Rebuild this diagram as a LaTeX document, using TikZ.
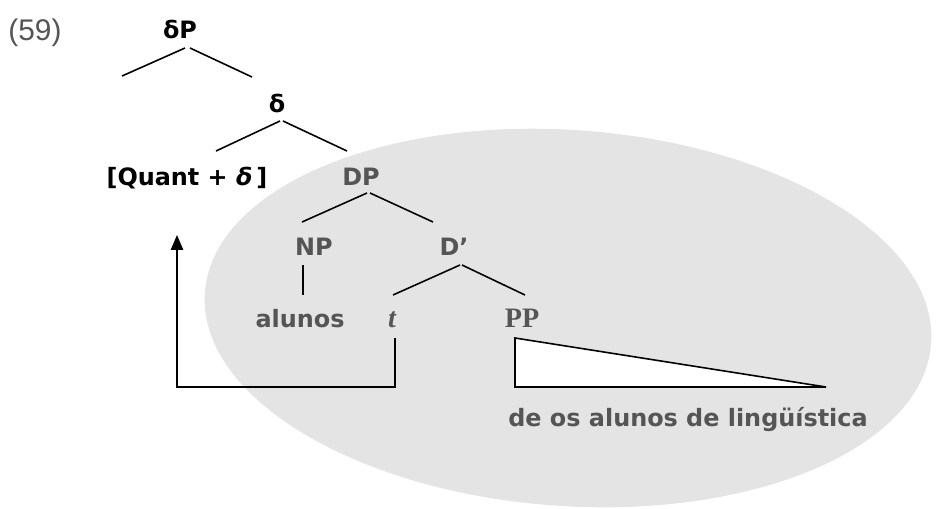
\documentclass[tikz,border=0pt]{standalone}
\usepackage{fontspec}
\setmainfont{DejaVu Sans}
\newfontfamily\numfont{Liberation Sans}
\newfontfamily\serffont{Liberation Serif}
\usetikzlibrary{arrows.meta,calc}
\definecolor{domaingrey}{HTML}{E4E4E4}
\definecolor{ink}{HTML}{555555}
\tikzset{
  lbl/.style={font=\bfseries\fontsize{13.6}{16}\selectfont, inner sep=0pt, anchor=base},
  glbl/.style={lbl, text=ink},
  slbl/.style={lbl, text=ink, font=\serffont\bfseries\fontsize{16}{18}\selectfont},
  branch/.style={line width=0.9pt},
}
\begin{document}
\begin{tikzpicture}[x=0.02cm, y=-0.02cm]
  \useasboundingbox (0,0) rectangle (937,508);
  % grey domain
  \fill[domaingrey, rotate around={-4:(568,318)}] (568,318) ellipse [x radius=364, y radius=188];
  \node[font=\numfont\fontsize{17}{19}\selectfont, text=ink, anchor=base west, inner sep=0pt] (ex) at (8,40) {(59)};
  % tree
  \node[lbl] (dP) at (180,38) {δP};
  \coordinate (spec) at (122,76);
  \node[lbl] (d) at (277,112) {δ};
  \node[lbl] (qd) at (187,185) {[Quant + \textit{δ}\,]};
  \node[glbl] (DP) at (361,185) {DP};
  \node[glbl] (NP) at (314,255) {NP};
  \node[glbl] (Dbar) at (454,255) {D’};
  \node[glbl] (al) at (300,327) {alunos};
  \node[slbl, font=\serffont\itshape\bfseries\fontsize{16}{18}\selectfont] (t) at (392,327) {t};
  \node[slbl] (PP) at (522,327) {PP};
  \node[glbl, anchor=base west] (str) at (508,426) {de os alunos de lingüística};
  \draw[branch] ($(dP.base)+(5,10)$) -- (spec);
  \draw[branch] ($(dP.base)+(10,10)$) -- ($(d.base)+(-25,-35)$);
  \draw[branch] ($(d.base)+(3,9)$) -- ($(qd.base)+(29,-34)$);
  \draw[branch] ($(d.base)+(6,9)$) -- ($(DP.base)+(-14,-34)$);
  \draw[branch] ($(DP.base)+(6,8)$) -- ($(NP.base)+(-12,-33)$);
  \draw[branch] ($(DP.base)+(9,8)$) -- ($(Dbar.base)+(-21,-33)$);
  \draw[line width=1.5pt] ($(NP.base)+(-11,10)$) -- ($(al.base)+(3,-32)$);
  \draw[branch] ($(Dbar.base)+(6,10)$) -- ($(t.base)+(1,-32)$);
  \draw[branch] ($(Dbar.base)+(8,10)$) -- ($(PP.base)+(3,-32)$);
  % triangle
  \filldraw[fill=white, draw=black, line width=0.9pt]
    ($(PP.base)+(-7,11)$) -- ($(PP.base)+(-7,60)$) -- ($(PP.base)+(304,60)$) -- cycle;
  % movement
  \coordinate (up) at (177,235);
  \draw[line width=0.9pt, -{Triangle[length=8.5pt, width=7pt]}] ($(t.base)+(3,11)$) |- ($(up)+(0,152)$) -- (up);
\end{tikzpicture}
\end{document}
